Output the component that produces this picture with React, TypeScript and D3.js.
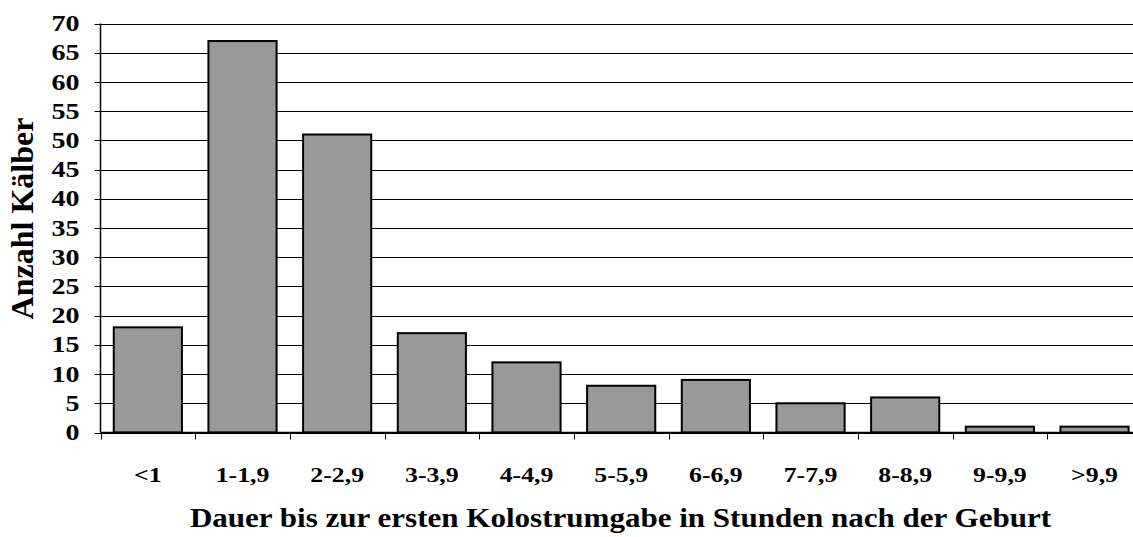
import React from "react";
import * as d3 from "d3";

const categories = ["<1", "1-1,9", "2-2,9", "3-3,9", "4-4,9", "5-5,9", "6-6,9", "7-7,9", "8-8,9", "9-9,9", ">9,9"];
const values = [18, 67, 51, 17, 12, 8, 9, 5, 6, 1, 1];
const yTicks = [0, 5, 10, 15, 20, 25, 30, 35, 40, 45, 50, 55, 60, 65, 70];
const xTitle = "Dauer bis zur ersten Kolostrumgabe in Stunden nach der Geburt";
const yTitle = "Anzahl Kälber";

export default function App() {
  const W = 1133, H = 537;
  const left = 100.5, top = 23.5, bottom = 432.5;
  const band = 94.67;
  const right = left + band * categories.length;
  const x = d3.scaleBand<string>().domain(categories).range([left, right]).paddingInner(0.28).paddingOuter(0.14);
  const y = d3.scaleLinear().domain([0, 70]).range([bottom, top]);
  const font = "'Liberation Serif', 'Times New Roman', serif";
  return (
    <svg width={W} height={H} style={{ position: "absolute", left: 0, top: 0, background: "#fff" }}>
      <rect width={W} height={H} fill="#fff" />
      {yTicks.map((t) => (
        <g key={t}>
          <line x1={left - 6} x2={t === 0 ? right : W} y1={Math.round(y(t)) + 0.5} y2={Math.round(y(t)) + 0.5} stroke="#000" strokeWidth={1} />
          <text transform={`translate(79.5,${y(t)}) scale(1.22,1)`} dy="0.33em" textAnchor="end" fontFamily={font} fontWeight="bold" fontSize={23}>{t}</text>
        </g>
      ))}
      {d3.range(categories.length + 1).map((i) => (
        <line key={i} x1={Math.round(left + i * band) + 0.5} x2={Math.round(left + i * band) + 0.5} y1={bottom} y2={bottom + 7} stroke="#000" strokeWidth={1} />
      ))}
      <line x1={left} x2={left} y1={top} y2={bottom} stroke="#000" strokeWidth={1.5} />
      {categories.map((c, i) => (
        <rect key={c} x={x(c)} y={y(values[i])} width={x.bandwidth()} height={bottom - y(values[i])} fill="#999999" stroke="#000" strokeWidth={2} />
      ))}
      <line x1={left} x2={W} y1={bottom} y2={bottom} stroke="#000" strokeWidth={1.5} />
      {categories.map((c) => (
        <text key={c} transform={`translate(${x(c)! + x.bandwidth() / 2},482) scale(1.2,1)`} textAnchor="middle" fontFamily={font} fontWeight="bold" fontSize={21.5}>{c}</text>
      ))}
      <text transform="translate(620.5,527) scale(1.15,1)" textAnchor="middle" fontFamily={font} fontWeight="bold" fontSize={27}>{xTitle}</text>
      <text transform={`translate(33,218.5) rotate(-90)`} textAnchor="middle" fontFamily={font} fontWeight="bold" fontSize={32}>{yTitle}</text>
    </svg>
  );
}
